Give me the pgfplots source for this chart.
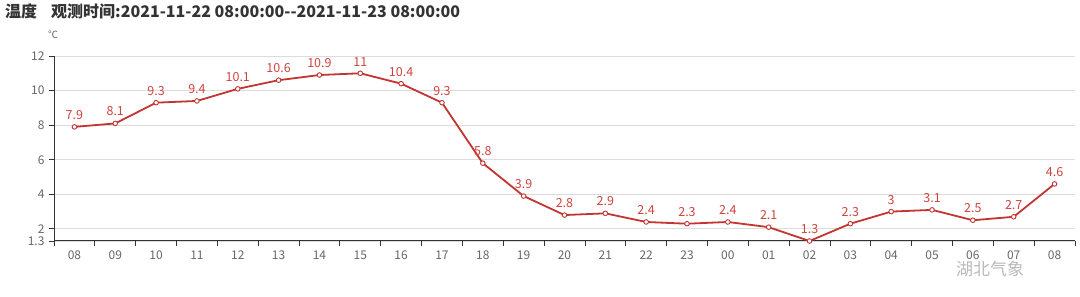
\documentclass[border=0pt]{standalone}
\usepackage{pgfplots}
\pgfplotsset{compat=1.18}
\usepackage{fontspec}
\setmainfont{Noto Sans CJK SC}
\definecolor{lineRed}{HTML}{C23531}
\definecolor{lblRed}{HTML}{D0433E}
\definecolor{tickGray}{HTML}{666666}
\definecolor{axisGray}{HTML}{333333}
\definecolor{gridGray}{HTML}{DCDCDC}
\definecolor{titleGray}{HTML}{333333}
\begin{document}
\begin{tikzpicture}
\path[use as bounding box] (0,0) rectangle (1080pt,297pt);
\node[anchor=base west, inner sep=0pt, text=titleGray, font=\fontsize{16}{16}\selectfont\bfseries] at (5pt,279pt) {温度\hspace{14pt}观测时间:2021-11-22 08:00:00{-}{-}2021-11-23 08:00:00};
\node[anchor=center, inner sep=0pt, text=tickGray, font=\fontsize{10}{10}\selectfont] at (53pt,262pt) {℃};
\begin{axis}[
  at={(54pt,56pt)}, anchor=south west,
  scale only axis, width=1021pt, height=185pt,
  xmin=-0.5, xmax=24.5, ymin=1.3, ymax=12,
  xtick={-0.5,0.5,...,24.5},
  x tick label as interval,
  xticklabels={08,09,10,11,12,13,14,15,16,17,18,19,20,21,22,23,00,01,02,03,04,05,06,07,08},
  ytick={1.3,2,4,6,8,10,12},
  yticklabels={1.3,2,4,6,8,10,12},
  tick align=outside, major tick length=5pt,
  axis x line*=bottom, axis y line*=left,
  axis line style={axisGray, line width=1pt},
  every tick/.style={axisGray, line width=0.8pt},
  ymajorgrids, grid style={gridGray, line width=0.8pt},
  tick label style={text=tickGray, font=\fontsize{12}{12}\selectfont},
  xticklabel style={yshift=-1pt},
  yticklabel style={xshift=-1pt},
  /pgf/number format/assume math mode=true,
  clip=false,
  nodes near coords,
  nodes near coords style={text=lblRed, font=\fontsize{12.5}{12.5}\selectfont, anchor=south, yshift=3.5pt, /pgf/number format/assume math mode=true},
]
\addplot[lineRed, line width=1.8pt, mark=*, mark size=2.3pt, mark options={fill=white, draw=lineRed, line width=0.9pt}] coordinates {
(0,7.9) (1,8.1) (2,9.3) (3,9.4) (4,10.1) (5,10.6) (6,10.9) (7,11) (8,10.4) (9,9.3)
(10,5.8) (11,3.9) (12,2.8) (13,2.9) (14,2.4) (15,2.3) (16,2.4) (17,2.1) (18,1.3) (19,2.3)
(20,3) (21,3.1) (22,2.5) (23,2.7) (24,4.6)
};
\end{axis}
\node[anchor=center, inner sep=0pt, text=gray!55, font=\fontsize{17}{17}\selectfont] at (990pt,28pt) {湖北气象};
\end{tikzpicture}
\end{document}
